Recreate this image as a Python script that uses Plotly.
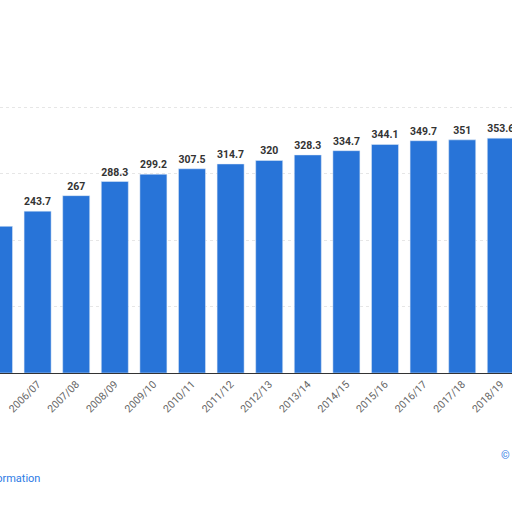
import plotly.graph_objects as go

years = ["2005/06", "2006/07", "2007/08", "2008/09", "2009/10", "2010/11", "2011/12",
         "2012/13", "2013/14", "2014/15", "2015/16", "2016/17", "2017/18", "2018/19", "2019/20"]
values = [220.8, 243.7, 267, 288.3, 299.2, 307.5, 314.7, 320, 328.3, 334.7, 344.1,
          349.7, 351, 353.6, 356]
labels = ["220.8", "243.7", "267", "288.3", "299.2", "307.5", "314.7", "320", "328.3",
          "334.7", "344.1", "349.7", "351", "353.6", "356"]

fig = go.Figure(go.Bar(
    x=years, y=values, text=labels, textposition="outside", cliponaxis=False,
    marker_color="#2874d8",
    textfont=dict(family="Roboto", size=10.5, color="#333333", weight="bold"),
))
fig.update_layout(
    width=512, height=512, margin=dict(l=0, r=0, t=100, b=139, autoexpand=False),
    paper_bgcolor="white", plot_bgcolor="white", showlegend=False, bargap=0.3,
    font=dict(family="Roboto"),
)
fig.update_xaxes(range=[0.026, 13.29], tickangle=-45, showline=True, linecolor="#333333",
                 tickfont=dict(size=10.5, color="#666666"), ticks="", automargin=False)
fig.update_yaxes(range=[0, 411], dtick=100, showticklabels=False, gridcolor="#e6e6e6",
                 griddash="dot", zeroline=False, automargin=False)
# paper coords cover the plot area (y 100..373 px)
fig.add_annotation(text="Additional Information", x=42/512, y=-0.385, xref="paper", yref="paper",
                   xanchor="right", yanchor="middle", showarrow=False,
                   font=dict(size=11, color="#2c7be5"))
fig.add_annotation(text="©", x=1, y=-0.304, xref="paper", yref="paper",
                   xanchor="right", yanchor="middle", showarrow=False,
                   font=dict(size=11, color="#2c7be5"))
fig.write_html("out.html", config={"displayModeBar": False},
               post_script="document.body.style.margin='0';")
